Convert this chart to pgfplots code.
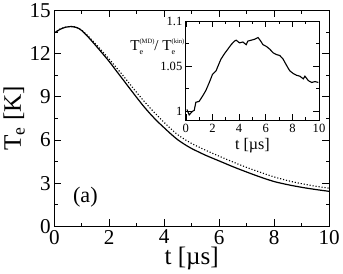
\documentclass[border=0pt]{standalone}
\usepackage{pgfplots}
\pgfplotsset{compat=1.18}
\usepackage{fontspec}
\setmainfont{Liberation Serif}
\begin{document}
\begin{tikzpicture}
\begin{axis}[
  name=main,
  scale only axis,
  width=273.2pt, height=214.8pt,
  xmin=0, xmax=10, ymin=0, ymax=15,
  xtick={0,2,...,10}, ytick={0,3,...,15},
  minor x tick num=1, minor y tick num=1,
  tick align=inside,
  major tick length=7pt, minor tick length=3.5pt,
  tick style={black, line width=0.8pt},
  axis line style={line width=0.9pt},
  /pgf/number format/assume math mode=true,
  ticklabel style={font=\fontsize{21}{21}\selectfont},
  xlabel={t [µs]}, ylabel={T\textsubscript{e} [K]},
  label style={font=\fontsize{25}{25}\selectfont},
  xlabel style={yshift=4pt},
  ylabel style={yshift=-2pt},
  clip=false,
]
\addplot[black, line width=1.2pt, smooth] coordinates {
(0,13.45) (0.1,13.55) (0.2,13.68) (0.3,13.76) (0.4,13.83) (0.5,13.86) (0.6,13.88) (0.7,13.86) (0.8,13.82) (0.9,13.74) (1.0,13.6) (1.1,13.42) (1.25,13.12) (1.5,12.58) (1.75,12.02) (2.0,11.45) (2.25,10.82) (2.5,10.2) (2.75,9.57) (3.0,8.95) (3.25,8.35) (3.5,7.8) (3.75,7.3) (4.0,6.85) (4.25,6.41) (4.5,6.01) (4.75,5.69) (5.0,5.41) (5.5,4.95) (6.0,4.55) (6.5,4.15) (7.0,3.78) (7.5,3.43) (8.0,3.12) (8.5,2.9) (9.0,2.72) (9.5,2.57) (10.0,2.44)
};
\addplot[black, line width=1.1pt, dash pattern=on 1.1pt off 1.9pt, smooth] coordinates {
(0,13.45) (0.25,13.75) (0.5,13.87) (0.75,13.86) (1.0,13.62) (1.25,13.18) (1.5,12.68) (1.75,12.15) (2.0,11.62) (2.25,11.05) (2.5,10.48) (2.75,9.88) (3.0,9.3) (3.25,8.73) (3.5,8.2) (3.75,7.7) (4.0,7.22) (4.25,6.77) (4.5,6.36) (4.75,6.04) (5.0,5.76) (5.5,5.3) (6.0,4.88) (6.5,4.48) (7.0,4.1) (7.5,3.76) (8.0,3.44) (8.5,3.18) (9.0,2.97) (9.5,2.8) (10.0,2.66)
};
\node[font=\fontsize{22}{22}\selectfont] at (axis cs:1.13,2.0) {(a)};
\end{axis}
\begin{axis}[
  at={(130.8pt,105.6pt)}, anchor=south west,
  scale only axis,
  width=132.4pt, height=98.4pt,
  xmin=0, xmax=10, ymin=0.99, ymax=1.1,
  xtick={0,2,...,10}, ytick={1,1.05,1.1},
  yticklabels={1,1.05,1.1},
  minor x tick num=1, minor y tick num=1,
  tick align=inside,
  major tick length=6pt, minor tick length=3pt,
  tick style={black, line width=0.7pt},
  axis line style={line width=0.8pt},
  /pgf/number format/assume math mode=true,
  ticklabel style={font=\fontsize{12.5}{12.5}\selectfont},
  xlabel={t [µs]},
  xlabel style={font=\fontsize{16}{16}\selectfont, yshift=1pt},
  clip=false,
]
\addplot[black, line width=1.1pt] coordinates {
(0.08,1.002) (0.25,0.996) (0.5,1.0) (0.63,1.001) (0.75,1.01) (1.0,1.011) (1.26,1.017) (1.5,1.023) (1.76,1.032) (2.0,1.041) (2.27,1.045) (2.52,1.054) (2.64,1.058) (2.9,1.064) (3.15,1.069) (3.4,1.074) (3.65,1.078) (3.78,1.079) (4.03,1.076) (4.28,1.077) (4.53,1.074) (4.66,1.078) (4.91,1.079) (5.16,1.08) (5.42,1.082) (5.62,1.078) (5.79,1.074) (6.05,1.072) (6.3,1.069) (6.55,1.065) (6.8,1.063) (7.05,1.062) (7.3,1.058) (7.56,1.051) (7.8,1.045) (8.06,1.042) (8.31,1.04) (8.56,1.039) (8.82,1.036) (8.94,1.039) (9.2,1.034) (9.45,1.032) (9.7,1.033) (9.95,1.032)
};
\node[anchor=base east, font=\fontsize{15}{15}\selectfont, inner sep=0pt] at (rel axis cs:-0.01,0.70)
 {T\rlap{\raisebox{-3.5pt}{\fontsize{8}{8}\selectfont e}}\raisebox{7pt}{\fontsize{6.5}{6.5}\selectfont (MD)}/ T\rlap{\raisebox{-3.5pt}{\fontsize{8}{8}\selectfont e}}\raisebox{7pt}{\fontsize{6.5}{6.5}\selectfont (kin)}};
\end{axis}
\end{tikzpicture}
\end{document}
